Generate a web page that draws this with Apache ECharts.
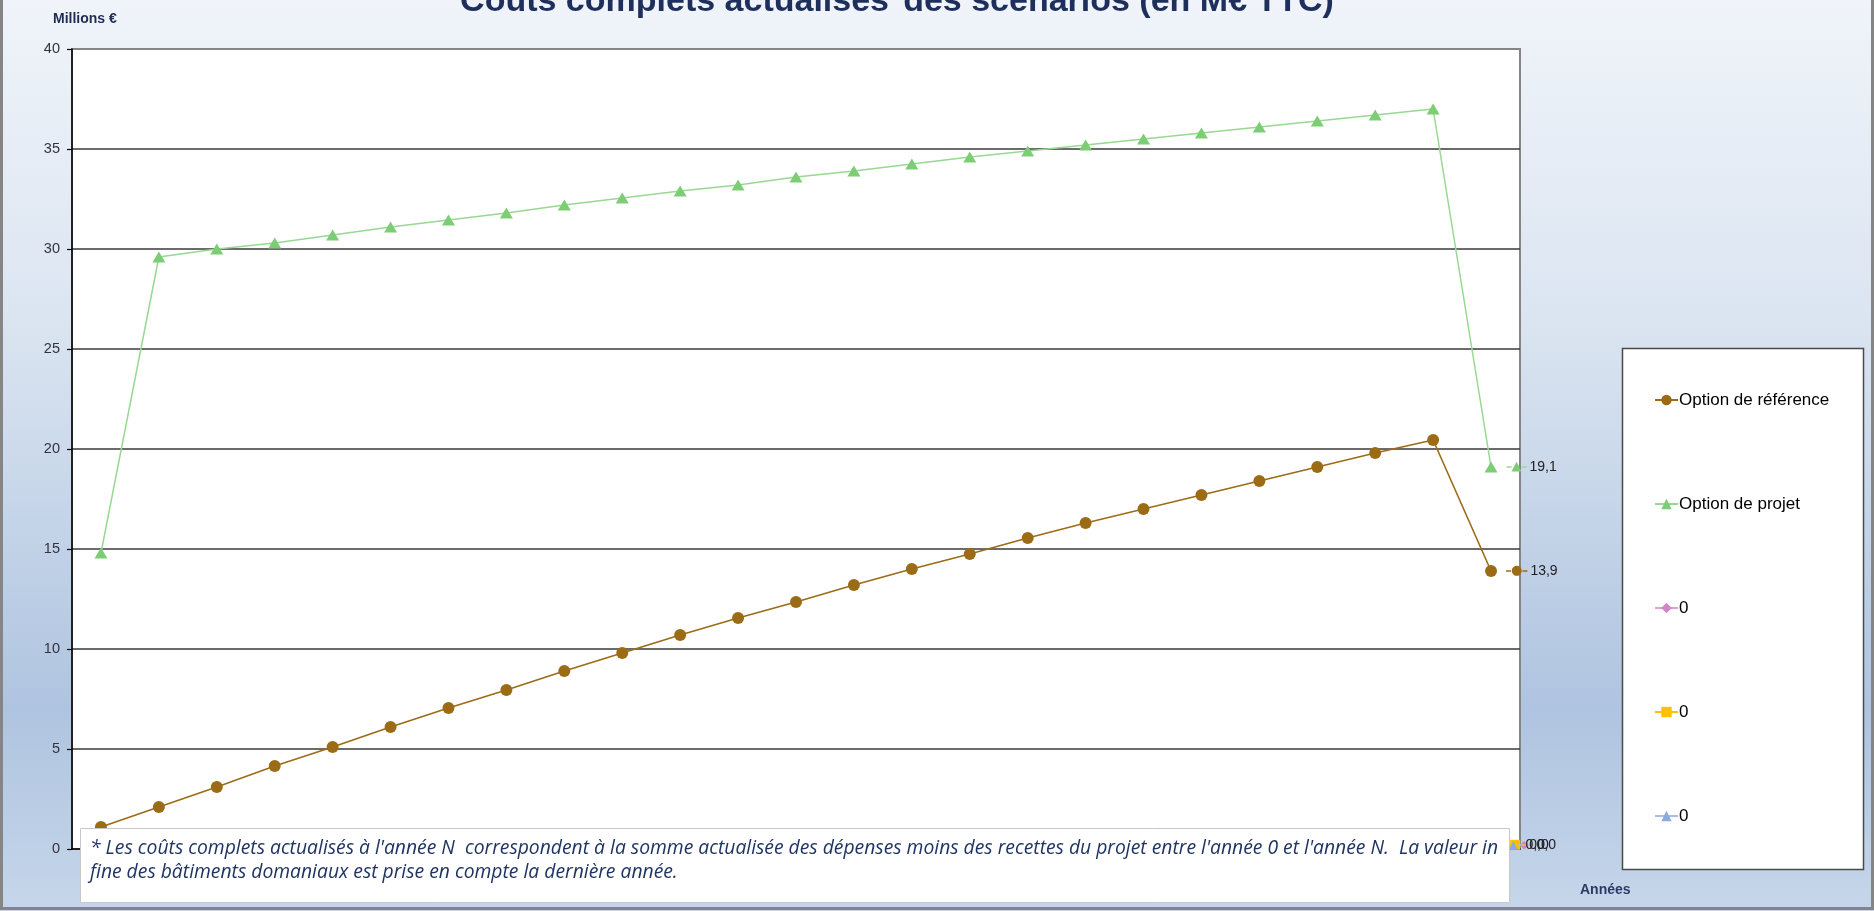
<!DOCTYPE html>
<html>
<head>
<meta charset="utf-8">
<script src="https://cdn.jsdelivr.net/npm/echarts@6/dist/echarts.min.js"></script>
<style>
html,body{margin:0;padding:0;width:1874px;height:911px;overflow:hidden;}
#c{width:1874px;height:911px;}
</style>
</head>
<body>
<div id="c"></div>
<script>
// ---- data ----
const categories = ['0','1','2','3','4','5','6','7','8','9','10','11','12','13','14','15','16','17','18','19','20','21','22','23','24'];
const optionReference = [1.1, 2.1, 3.1, 4.15, 5.1, 6.1, 7.05, 7.95, 8.9, 9.8, 10.7, 11.55, 12.35, 13.2, 14.0, 14.75, 15.55, 16.3, 17.0, 17.7, 18.4, 19.1, 19.8, 20.45, 13.9];
const optionProjet = [14.8, 29.6, 30.0, 30.3, 30.7, 31.1, 31.45, 31.8, 32.2, 32.55, 32.9, 33.2, 33.6, 33.9, 34.25, 34.6, 34.9, 35.2, 35.5, 35.8, 36.1, 36.4, 36.7, 37.0, 19.1];
const serie3 = [0,0,0,0,0,0,0,0,0,0,0,0,0,0,0,0,0,0,0,0,0,0,0,0,0];
const serie4 = [0,0,0,0,0,0,0,0,0,0,0,0,0,0,0,0,0,0,0,0,0,0,0,0,0];
const serie5 = [0,0,0,0,0,0,0,0,0,0,0,0,0,0,0,0,0,0,0,0,0,0,0,0,0];
const seriesNames = ['Option de référence', 'Option de projet', '0', '0\u200b', '0\u200b\u200b'];
const yTicks = {min: 0, max: 40, interval: 5};
const titleText = 'Coûts complets actualisés';
const titleText2 = ' des scénarios (en M€ TTC)';
const footLine1 = "* Les coûts complets actualisés à l'année N  correspondent à la somme actualisée des dépenses moins des recettes du projet entre l'année 0 et l'année N.  La valeur in";
const footLine2 = "fine des bâtiments domaniaux est prise en compte la dernière année.";

// ---- helpers ----
function fitSize(text, font, target){
  const cv = document.createElement('canvas').getContext('2d');
  cv.font = font.replace('SIZE','100px');
  return 100 * target / cv.measureText(text).width;
}
const footFont = 'italic SIZE "Open Sans", sans-serif';
const footSize = fitSize(footLine1, footFont, 1409);

function fmt(v){ return v.toFixed(1).replace('.', ','); }

const styles = [
  {line:'#9c6b16', mark:'#9c6b16', symbol:'circle', size:12, glyph:'●', gsize:13},
  {line:'#98d892', mark:'#7ccd75', symbol:'triangle', size:[13,11], glyph:'▲', gsize:13},
  {line:'#dba3d4', mark:'#cf86c6', symbol:'diamond', size:8, glyph:'◆', gsize:11},
  {line:'#ffc000', mark:'#ffc000', symbol:'rect', size:8, glyph:'■', gsize:13},
  {line:'#a9bde6', mark:'#8eaadc', symbol:'triangle', size:8, glyph:'▲', gsize:11}
];
const labelOffsets = [[0,0],[0,0],[11,-4],[0,-4],[0,-4]];
const seriesZ = [2.4, 2.3, 2.0, 2.1, 2.2];

function buildData(values, idx){
  const st = styles[idx];
  return values.map((v, i) => {
    if (i !== values.length - 1) return v;
    return {
      value: v,
      label: {
        show: true,
        position: 'right',
        distance: 9,
        offset: labelOffsets[idx],
        formatter: () => '{l|}{m|' + st.glyph + '}{l|}{v|' + fmt(v) + '}',
        rich: {
          l: {width: 5, height: 1.5, backgroundColor: st.line},
          m: {color: st.mark, fontSize: st.gsize, fontFamily: 'DejaVu Sans'},
          v: {fontSize: 14, color: '#222', fontFamily: 'Liberation Sans', padding: [0,0,0,3]}
        }
      }
    };
  });
}

const allValues = [optionReference, optionProjet, serie3, serie4, serie5];
const series = allValues.map((vals, idx) => ({
  name: seriesNames[idx],
  type: 'line',
  data: buildData(vals, idx),
  symbol: styles[idx].symbol,
  symbolSize: styles[idx].size,
  showAllSymbol: true,
  lineStyle: {color: styles[idx].line, width: idx === 0 ? 1.6 : 1.5},
  itemStyle: {color: styles[idx].mark},
  emphasis: {disabled: true},
  z: seriesZ[idx]
}));

const chart = echarts.init(document.getElementById('c'), null, {renderer: 'canvas'});
chart.setOption({
  animation: false,
  grid: {left: 72, right: 354, top: 49, bottom: 62, show: true, backgroundColor: '#ffffff', borderColor: '#858585', borderWidth: 2, containLabel: false, outerBoundsMode: 'none'},
  legend: {
    orient: 'vertical',
    left: 1654,
    top: 390,
    padding: 0,
    z: 150,
    itemGap: 84,
    itemWidth: 23,
    itemHeight: 13,
    textStyle: {fontSize: 17, color: '#000', fontFamily: 'Liberation Sans', lineHeight: 20, padding: [0,0,0,-4]},
    data: seriesNames,
    selectedMode: false
  },
  xAxis: {
    type: 'category',
    data: categories,
    boundaryGap: true,
    axisLine: {show: true, lineStyle: {color: '#000', width: 1.5}},
    axisTick: {show: false},
    axisLabel: {show: false},
    splitLine: {show: false}
  },
  yAxis: {
    type: 'value',
    min: yTicks.min, max: yTicks.max, interval: yTicks.interval,
    axisLine: {show: true, lineStyle: {color: '#000', width: 1.5}},
    axisTick: {show: true, inside: false, length: 5, lineStyle: {color: '#000', width: 1.2}},
    axisLabel: {fontSize: 14.5, color: '#333340', fontFamily: 'Liberation Sans', margin: 12},
    splitLine: {show: true, showMinLine: false, showMaxLine: false, lineStyle: {color: '#3a3a3a', width: 1.5}}
  },
  graphic: [
    {type: 'rect', z: -100, silent: true, shape: {x: 0, y: 0, width: 1874, height: 911},
      style: {fill: new echarts.graphic.LinearGradient(0, 0, 0, 1, [
        {offset: 0, color: '#f0f4fa'},
        {offset: 0.35, color: '#dbe5f1'},
        {offset: 0.78, color: '#afc4e0'},
        {offset: 1, color: '#c6d6ea'}
      ])}},
    {type: 'rect', z: 200, silent: true, shape: {x: 1.5, y: -10, width: 1871, height: 918.5},
      style: {fill: 'none', stroke: '#858585', lineWidth: 3}},
    {type: 'text', z: 50, silent: true, style: {
      x: 897, y: 2, text: '{a|' + titleText + '}{s|*}{a|' + titleText2 + '}',
      align: 'center', verticalAlign: 'middle', fill: '#1f2f5b',
      rich: {
        a: {fontSize: 34, fontWeight: 'bold', fontFamily: 'Liberation Sans', fill: '#1f2f5b'},
        s: {fontSize: 12, fontWeight: 'bold', fontFamily: 'Liberation Sans', fill: '#8a93ad', verticalAlign: 'top', padding: [0,0,14,0]}
      }}},
    {type: 'text', z: 50, silent: true, style: {
      x: 53, y: 19, text: 'Millions €', verticalAlign: 'middle',
      font: 'bold 14px "Liberation Sans", Arial, sans-serif', fill: '#1f2d50'}},
    {type: 'text', z: 50, silent: true, style: {
      x: 1580, y: 890, text: 'Années', verticalAlign: 'middle',
      font: 'bold 14px "Liberation Sans", Arial, sans-serif', fill: '#2a3a66'}},
    {type: 'rect', z: 100, silent: true, shape: {x: 80.5, y: 828.5, width: 1429, height: 74},
      style: {fill: '#ffffff', stroke: '#c8c8c8', lineWidth: 1}},
    {type: 'text', z: 101, silent: true, style: {
      x: 90, y: 848, text: footLine1, verticalAlign: 'middle',
      font: 'italic ' + footSize.toFixed(2) + 'px "Open Sans", sans-serif', fill: '#1f3462'}},
    {type: 'text', z: 101, silent: true, style: {
      x: 90, y: 872, text: footLine2, verticalAlign: 'middle',
      font: 'italic ' + footSize.toFixed(2) + 'px "Open Sans", sans-serif', fill: '#1f3462'}},
    {type: 'rect', z: 90, silent: true, shape: {x: 1622.5, y: 348.5, width: 241, height: 521},
      style: {fill: '#ffffff', stroke: '#4a4a4a', lineWidth: 1.5}}
  ],
  series: series
});
</script>
</body>
</html>
